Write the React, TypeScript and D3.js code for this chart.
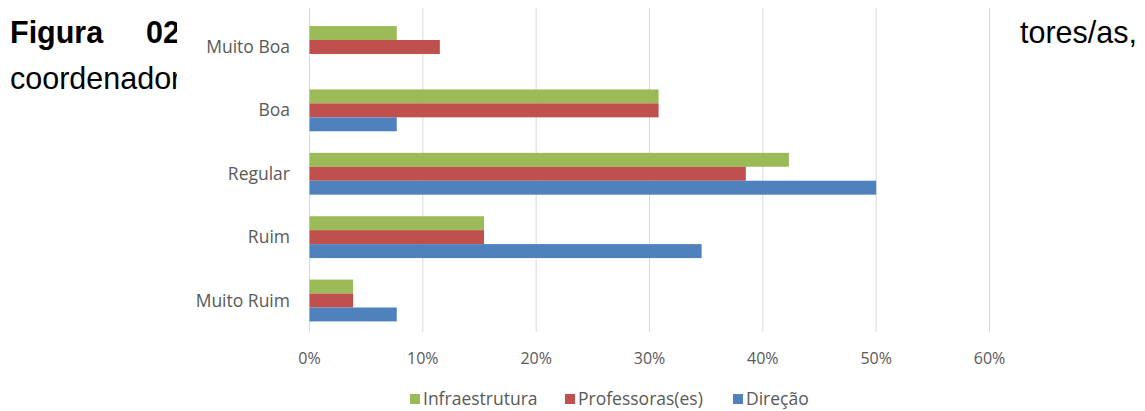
import React from "react";
import * as d3 from "d3";

const categories = ["Muito Boa", "Boa", "Regular", "Ruim", "Muito Ruim"];
const seriesNames = ["Infraestrutura", "Professoras(es)", "Direção"];
const infraestrutura = [7.7, 30.8, 42.3, 15.4, 3.85];
const professoras = [11.5, 30.8, 38.5, 15.4, 3.85];
const direcao = [0, 7.7, 50, 34.6, 7.7];
const xTicks = [0, 10, 20, 30, 40, 50, 60];
const colors = ["#9bbb59", "#c0504d", "#4f81bd"];

const W = 1145;
const H = 411;

const App = () => {
  const values = [infraestrutura, professoras, direcao];

  const x = d3.scaleLinear().domain([0, 60]).range([309.5, 989.5]);
  const y = d3
    .scaleBand<string>()
    .domain(categories)
    .range([15.3, 332.2])
    .paddingInner(0.34)
    .paddingOuter(0.17);
  const ySub = d3
    .scaleBand<string>()
    .domain(seriesNames)
    .range([0, y.bandwidth()]);

  const font = "'Open Sans', 'DejaVu Sans', sans-serif";
  const legendX = [410, 565, 733];

  return (
    <svg
      width={W}
      height={H}
      style={{ position: "fixed", left: 0, top: 0, background: "#fff" }}
    >
      {/* page text behind the pasted chart */}
      <g fontFamily="'Liberation Sans', Arial, sans-serif" fontSize={30.5} fill="#000">
        <text x={10} y={43} fontWeight="bold">Figura</text>
        <text x={146} y={43} fontWeight="bold">02</text>
        <text x={10} y={89}>coordenadores</text>
        <text x={1020} y={43}>tores/as,</text>
      </g>

      {/* chart image area */}
      <rect x={177} y={0} width={829} height={H} fill="#fff" />

      {xTicks.map((t) => (
        <line
          key={t}
          x1={x(t)}
          x2={x(t)}
          y1={8}
          y2={332}
          stroke="#d9d9d9"
          strokeWidth={1}
        />
      ))}

      {categories.map((c, i) => (
        <g key={c}>
          {seriesNames.map((s, j) => (
            <rect
              key={s}
              x={x(0)}
              y={(y(c) ?? 0) + (ySub(s) ?? 0)}
              width={x(values[j][i]) - x(0)}
              height={ySub.bandwidth()}
              fill={colors[j]}
            />
          ))}
          <text
            x={290}
            y={(y(c) ?? 0) + y.bandwidth() / 2}
            dy="0.35em"
            textAnchor="end"
            fontFamily={font}
            fontSize={17.5}
            fill="#595959"
          >
            {c}
          </text>
        </g>
      ))}

      {xTicks.map((t) => (
        <text
          key={t}
          x={x(t)}
          y={358}
          dy="0.35em"
          textAnchor="middle"
          fontFamily={font}
          fontSize={16}
          fill="#595959"
        >
          {t}%
        </text>
      ))}

      {seriesNames.map((s, j) => (
        <g key={s} transform={`translate(${legendX[j]},399)`}>
          <rect x={0} y={-5} width={10} height={10} fill={colors[j]} />
          <text
            x={13}
            dy="0.35em"
            fontFamily={font}
            fontSize={17.5}
            fill="#595959"
          >
            {s}
          </text>
        </g>
      ))}
    </svg>
  );
};

export default App;
